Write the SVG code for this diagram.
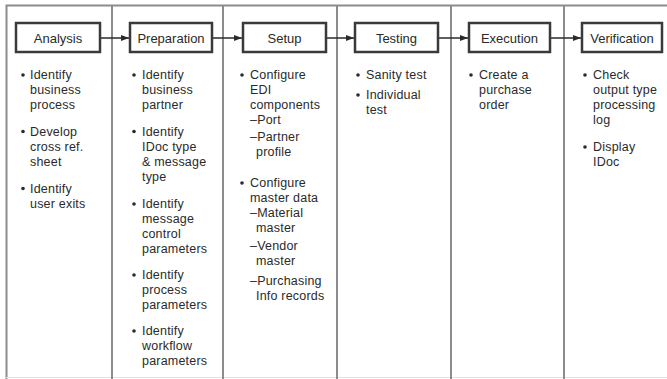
<svg xmlns="http://www.w3.org/2000/svg" width="667" height="379" viewBox="0 0 667 379">
  <style>
    .frame { fill: none; stroke: #8c8c8c; stroke-width: 2; }
    .divider { stroke: #8c8c8c; stroke-width: 2; }
    .box { fill: #ffffff; stroke: #3a3a3a; stroke-width: 2.5; }
    .label { font-family: "Liberation Sans", Arial, sans-serif; font-size: 13px; fill: #2a2a2a; text-anchor: middle; }
    .item { font-family: "Liberation Sans", Arial, sans-serif; font-size: 12.5px; fill: #2a2a2a; letter-spacing: 0.2px; }
    .bullet { fill: #2a2a2a; }
    .conn { stroke: #2a2a2a; stroke-width: 1.5; fill: none; marker-end: url(#head); }
  </style>
  <defs>
    <marker id="head" viewBox="0 0 8 6" refX="8" refY="3" markerWidth="8" markerHeight="6" markerUnits="userSpaceOnUse" orient="auto">
      <path d="M0,0 L8,3 L0,6 Z" fill="#2a2a2a"/>
    </marker>
  </defs>

  <rect x="0" y="0" width="667" height="379" fill="#ffffff"/>

  <!-- outer frame and column dividers -->
  <g id="frame">
    <path class="frame" d="M6.5,379 V5.5 H667"/>
    <line x1="6" y1="377.5" x2="667" y2="377.5" stroke="#e2e2e2" stroke-width="1"/>
    <line class="divider" x1="112" y1="5" x2="112" y2="379"/>
    <line class="divider" x1="223" y1="5" x2="223" y2="379"/>
    <line class="divider" x1="337" y1="5" x2="337" y2="379"/>
    <line class="divider" x1="451" y1="5" x2="451" y2="379"/>
    <line class="divider" x1="564" y1="5" x2="564" y2="379"/>
  </g>

  <!-- connectors between phases -->
  <g id="connectors">
    <line class="conn" x1="101" y1="38" x2="129" y2="38"/>
    <line class="conn" x1="213" y1="38" x2="242" y2="38"/>
    <line class="conn" x1="327" y1="38" x2="354" y2="38"/>
    <line class="conn" x1="439" y1="38" x2="468" y2="38"/>
    <line class="conn" x1="551" y1="38" x2="581" y2="38"/>
  </g>

  <g id="analysis">
    <rect class="box" x="16" y="23" width="84" height="29"/>
    <text class="label" x="58" y="42.5">Analysis</text>
    <circle class="bullet" cx="23" cy="75" r="1.8"/>
    <text class="item" x="30" y="79">Identify</text>
    <text class="item" x="30" y="94">business</text>
    <text class="item" x="30" y="109">process</text>
    <circle class="bullet" cx="23" cy="131.5" r="1.8"/>
    <text class="item" x="30" y="135.5">Develop</text>
    <text class="item" x="30" y="150.5">cross ref.</text>
    <text class="item" x="30" y="165.5">sheet</text>
    <circle class="bullet" cx="23" cy="188.5" r="1.8"/>
    <text class="item" x="30" y="192.5">Identify</text>
    <text class="item" x="30" y="207.5">user exits</text>
  </g>

  <g id="preparation">
    <rect class="box" x="130" y="23" width="82" height="29"/>
    <text class="label" x="171" y="42.5">Preparation</text>
    <circle class="bullet" cx="134" cy="75" r="1.8"/>
    <text class="item" x="142" y="79">Identify</text>
    <text class="item" x="142" y="94">business</text>
    <text class="item" x="142" y="109">partner</text>
    <circle class="bullet" cx="134" cy="131.5" r="1.8"/>
    <text class="item" x="142" y="135.5">Identify</text>
    <text class="item" x="142" y="150.5">IDoc type</text>
    <text class="item" x="142" y="165.5">&amp; message</text>
    <text class="item" x="142" y="180.5">type</text>
    <circle class="bullet" cx="134" cy="204" r="1.8"/>
    <text class="item" x="142" y="208">Identify</text>
    <text class="item" x="142" y="223">message</text>
    <text class="item" x="142" y="238">control</text>
    <text class="item" x="142" y="253">parameters</text>
    <circle class="bullet" cx="134" cy="275" r="1.8"/>
    <text class="item" x="142" y="279">Identify</text>
    <text class="item" x="142" y="294">process</text>
    <text class="item" x="142" y="309">parameters</text>
    <circle class="bullet" cx="134" cy="331" r="1.8"/>
    <text class="item" x="142" y="335">Identify</text>
    <text class="item" x="142" y="350">workflow</text>
    <text class="item" x="142" y="365">parameters</text>
  </g>

  <g id="setup">
    <rect class="box" x="243" y="23" width="83" height="29"/>
    <text class="label" x="284.5" y="42.5">Setup</text>
    <circle class="bullet" cx="242" cy="75" r="1.8"/>
    <text class="item" x="250" y="79">Configure</text>
    <text class="item" x="250" y="94">EDI</text>
    <text class="item" x="250" y="109">components</text>
    <text class="item" x="250" y="124">–Port</text>
    <text class="item" x="250" y="141">–Partner</text>
    <text class="item" x="256" y="156">profile</text>
    <circle class="bullet" cx="242" cy="183" r="1.8"/>
    <text class="item" x="250" y="187">Configure</text>
    <text class="item" x="250" y="202">master data</text>
    <text class="item" x="250" y="217">–Material</text>
    <text class="item" x="256" y="232">master</text>
    <text class="item" x="250" y="250">–Vendor</text>
    <text class="item" x="256" y="265">master</text>
    <text class="item" x="250" y="285">–Purchasing</text>
    <text class="item" x="256" y="300">Info records</text>
  </g>

  <g id="testing">
    <rect class="box" x="355" y="23" width="83" height="29"/>
    <text class="label" x="396.5" y="42.5">Testing</text>
    <circle class="bullet" cx="358" cy="75" r="1.8"/>
    <text class="item" x="366" y="79">Sanity test</text>
    <circle class="bullet" cx="358" cy="95" r="1.8"/>
    <text class="item" x="366" y="99">Individual</text>
    <text class="item" x="366" y="114">test</text>
  </g>

  <g id="execution">
    <rect class="box" x="469" y="23" width="81" height="29"/>
    <text class="label" x="509.5" y="42.5">Execution</text>
    <circle class="bullet" cx="471" cy="75" r="1.8"/>
    <text class="item" x="479" y="79">Create a</text>
    <text class="item" x="479" y="94">purchase</text>
    <text class="item" x="479" y="109">order</text>
  </g>

  <g id="verification">
    <rect class="box" x="582" y="23" width="80" height="29"/>
    <text class="label" x="622" y="42.5">Verification</text>
    <circle class="bullet" cx="585" cy="75" r="1.8"/>
    <text class="item" x="593" y="79">Check</text>
    <text class="item" x="593" y="94">output type</text>
    <text class="item" x="593" y="109">processing</text>
    <text class="item" x="593" y="124">log</text>
    <circle class="bullet" cx="585" cy="147" r="1.8"/>
    <text class="item" x="593" y="151">Display</text>
    <text class="item" x="593" y="166">IDoc</text>
  </g>
</svg>
